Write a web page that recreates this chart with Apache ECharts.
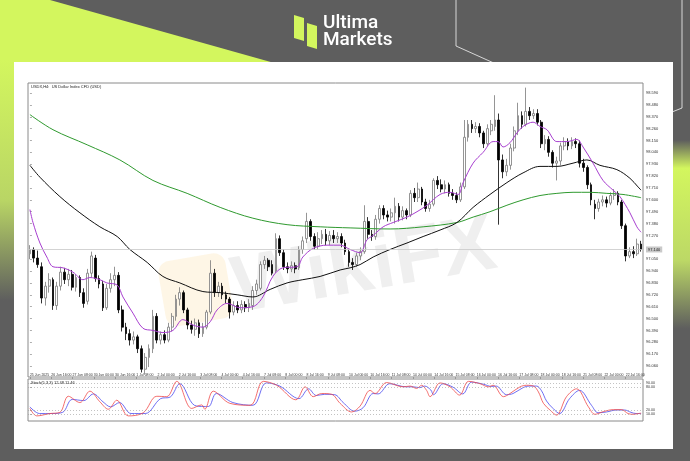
<!DOCTYPE html>
<html><head><meta charset="utf-8">
<script src="https://cdn.jsdelivr.net/npm/echarts@6/dist/echarts.min.js"></script>
<style>html,body{margin:0;padding:0;background:#5e5e5e}#c{width:690px;height:461px}</style>
</head><body><div id="c"></div><script>
// [open, close, low, high]
const candles = [
[97.10,97.14,97.05,97.18],[97.14,97.06,97.02,97.16],[97.06,97.00,96.97,97.13],[96.98,96.69,96.64,97.02],
[96.69,96.80,96.62,96.84],[96.80,96.86,96.74,96.92],[96.86,96.62,96.58,96.88],[96.62,96.80,96.58,96.84],
[96.80,96.93,96.76,96.98],[96.93,96.86,96.82,96.97],[96.86,96.91,96.80,96.96],[96.91,96.79,96.76,96.95],
[96.79,96.88,96.75,96.91],[96.88,96.74,96.70,96.90],[96.74,96.64,96.60,96.78],[96.66,96.92,96.63,96.96],
[96.92,97.08,96.88,97.12],[97.06,96.87,96.84,97.09],[96.87,96.82,96.78,96.90],[96.82,96.60,96.57,96.85],
[96.60,96.78,96.58,96.82],[96.78,96.86,96.74,96.92],[96.86,96.90,96.80,96.98],[96.90,96.58,96.55,96.93],
[96.58,96.42,96.38,96.62],[96.42,96.36,96.30,96.46],[96.36,96.30,96.25,96.40],[96.30,96.33,96.26,96.38],
[96.33,96.22,96.18,96.35],[96.22,96.03,96.00,96.25],[96.03,96.14,95.98,96.18],[96.14,96.22,96.05,96.26],
[96.22,96.52,96.18,96.58],[96.52,96.30,96.27,96.55],[96.30,96.35,96.26,96.38],[96.35,96.30,96.27,96.39],
[96.30,96.42,96.28,96.46],[96.42,96.52,96.38,96.55],[96.52,96.68,96.48,96.72],[96.68,96.74,96.62,96.79],
[96.74,96.58,96.55,96.76],[96.58,96.44,96.40,96.60],[96.44,96.40,96.36,96.48],[96.40,96.46,96.34,96.50],
[96.46,96.36,96.32,96.49],[96.36,96.42,96.33,96.46],[96.42,96.56,96.40,96.58],[96.56,96.92,96.54,97.04],
[96.92,96.74,96.70,96.96],[96.74,96.80,96.70,96.84],[96.80,96.72,96.68,96.83],[96.72,96.68,96.64,96.75],
[96.68,96.56,96.50,96.70],[96.56,96.62,96.53,96.66],[96.62,96.58,96.55,96.66],[96.58,96.63,96.55,96.67],
[96.63,96.60,96.56,96.66],[96.60,96.64,96.56,96.68],[96.62,96.76,96.58,96.80],[96.76,96.82,96.72,96.86],
[96.78,97.00,96.76,97.03],[97.00,97.04,96.96,97.08],[97.04,96.98,96.94,97.06],[97.00,96.92,96.90,97.04],
[96.94,97.24,96.92,97.29],[97.24,97.11,97.08,97.27],[97.11,96.98,96.95,97.14],[96.98,96.96,96.92,97.02],
[96.96,96.99,96.93,97.03],[96.99,96.96,96.92,97.02],[96.97,97.14,96.95,97.17],[97.14,97.22,97.10,97.26],
[97.24,97.40,97.20,97.48],[97.40,97.26,97.22,97.42],[97.26,97.17,97.14,97.29],[97.17,97.24,97.14,97.30],
[97.24,97.28,97.19,97.32],[97.28,97.22,97.18,97.33],[97.22,97.27,97.18,97.31],[97.27,97.24,97.20,97.32],
[97.24,97.26,97.20,97.30],[97.26,97.20,97.16,97.29],[97.20,97.12,97.09,97.23],[97.12,97.02,96.98,97.14],
[97.02,97.00,96.95,97.06],[97.00,97.08,96.98,97.11],[97.08,97.12,97.04,97.16],[97.12,97.40,97.10,97.55],
[97.40,97.28,97.24,97.44],[97.28,97.26,97.22,97.32],[97.26,97.42,97.23,97.46],[97.42,97.52,97.38,97.55],
[97.52,97.46,97.42,97.55],[97.46,97.44,97.40,97.50],[97.44,97.48,97.40,97.52],[97.48,97.54,97.38,97.62],
[97.54,97.44,97.40,97.57],[97.44,97.50,97.41,97.54],[97.50,97.46,97.42,97.52],[97.46,97.66,97.44,97.69],
[97.66,97.62,97.58,97.71],[97.62,97.70,97.58,97.76],[97.70,97.58,97.55,97.72],[97.58,97.52,97.49,97.61],
[97.52,97.56,97.49,97.60],[97.56,97.78,97.54,97.80],[97.78,97.74,97.70,97.82],[97.74,97.70,97.67,97.79],
[97.70,97.74,97.66,97.78],[97.74,97.66,97.63,97.76],[97.66,97.64,97.60,97.70],[97.64,97.60,97.57,97.67],
[97.60,97.72,97.58,97.76],[97.72,98.18,97.70,98.34],[98.18,98.30,98.14,98.34],[98.30,98.26,98.22,98.34],
[98.26,98.28,98.22,98.32],[98.28,98.22,98.18,98.31],[98.22,98.12,98.08,98.24],[98.12,98.26,98.10,98.30],
[98.24,98.30,98.20,98.34],[98.28,98.34,98.24,98.57],[98.34,97.97,97.37,98.40],[97.97,97.86,97.80,98.02],
[97.86,97.92,97.82,97.98],[97.92,98.08,97.88,98.12],[98.08,98.24,98.05,98.28],[98.24,98.38,98.20,98.50],
[98.38,98.30,98.26,98.42],[98.30,98.42,98.28,98.64],[98.42,98.38,98.34,98.46],[98.38,98.40,98.35,98.44],
[98.40,98.32,98.29,98.44],[98.32,98.12,98.08,98.34],[98.12,98.16,98.06,98.20],[98.16,98.04,98.00,98.19],
[98.04,97.94,97.90,98.06],[97.94,97.96,97.78,98.00],[97.96,98.10,97.92,98.13],[98.10,98.14,98.06,98.18],
[98.14,98.10,98.06,98.17],[98.10,98.14,98.07,98.18],[98.14,98.12,98.08,98.17],[98.12,97.94,97.90,98.15],
[97.94,97.90,97.86,97.98],[97.90,97.74,97.70,97.92],[97.74,97.60,97.55,97.76],[97.56,97.52,97.42,97.60],
[97.52,97.58,97.49,97.61],[97.58,97.60,97.54,97.64],[97.60,97.57,97.53,97.63],[97.57,97.64,97.55,97.67],
[97.64,97.66,97.60,97.70],[97.66,97.58,97.55,97.68],[97.58,97.36,97.33,97.60],[97.36,97.08,97.03,97.38],
[97.08,97.12,97.06,97.16],[97.12,97.10,97.06,97.17],[97.10,97.19,97.08,97.24],[97.19,97.14,97.12,97.22]
];
// moving averages: [bar position, price]
const maFast = [[0,97.51],[0.8,97.39],[2.6,97.20],[4.4,97.07],[6,96.98],[8.6,96.97],[11.2,96.93],[13.8,96.86],[15.6,96.88],[18.2,96.86],[20,96.83],[22.7,96.81],[24.2,96.70],[26.8,96.55],[29.4,96.41],[32,96.39],[34.6,96.37],[37.2,96.39],[39.8,96.49],[42.4,96.44],[45,96.42],[46.9,96.47],[48.7,96.58],[51.3,96.64],[54.7,96.60],[58,96.61],[60.6,96.70],[63.2,96.89],[65.8,96.97],[69.5,96.98],[71,97.07],[73.7,97.15],[77.3,97.18],[80.7,97.18],[83.3,97.14],[85.9,97.11],[87.7,97.23],[89.3,97.27],[91.9,97.35],[94.5,97.39],[98.1,97.44],[100.7,97.49],[103.3,97.55],[106.7,97.65],[109.3,97.67],[111.4,97.65],[112.7,97.76],[115.3,97.94],[117.9,98.04],[120.5,98.14],[121.8,98.14],[123.1,98.09],[124.9,98.13],[126.7,98.22],[128.3,98.28],[130.9,98.32],[132.7,98.28],[134.5,98.25],[137.1,98.14],[139.7,98.14],[142.3,98.16],[143.9,98.09],[146.5,97.94],[149.1,97.78],[151.7,97.69],[153.5,97.63],[156.1,97.48],[157.9,97.35],[159,97.30]];
const maMid = [[0,97.92],[2.6,97.81],[7.8,97.63],[13,97.48],[18.2,97.35],[22.7,97.26],[26,97.14],[30.5,97.02],[34.6,96.89],[39,96.83],[45,96.75],[49.5,96.74],[53.9,96.72],[58,96.70],[62.5,96.77],[66.9,96.83],[71,96.86],[75.5,96.89],[80.7,96.95],[83.3,96.97],[85.9,97.00],[89.3,97.07],[93.7,97.14],[98.1,97.20],[102.3,97.26],[106.7,97.32],[111.1,97.39],[115.3,97.53],[119.7,97.65],[124.1,97.76],[128.3,97.85],[132.7,97.91],[137.1,97.91],[141.3,97.94],[144.9,97.97],[148.3,97.92],[152.7,97.88],[156.1,97.80],[158.2,97.72],[159,97.69]];
const maSlow = [[0,98.39],[6,98.25],[14.9,98.11],[23.4,97.97],[32,97.78],[40.9,97.66],[49.5,97.53],[58,97.43],[66.9,97.37],[75.5,97.35],[83.3,97.34],[93.7,97.33],[102.3,97.35],[111.1,97.39],[115.3,97.44],[119.7,97.49],[124.1,97.55],[128.3,97.60],[132.7,97.64],[137.1,97.66],[141.3,97.67],[145.7,97.67],[150.1,97.66],[154.3,97.65],[159,97.62]];
// stochastic (5,3,3)
const stochMain = [[0,25],[1.8,6],[5.2,12],[7.8,15],[10,56],[13,40],[15.6,69],[18.2,42],[20.4,23],[22.6,46],[25.6,6],[29.5,14],[33,56],[35.6,55],[38.2,94],[42.1,25],[44.7,34],[45.5,23],[47.7,69],[52,38],[57.3,33],[60.7,94],[64.2,84],[69.2,47],[71.6,80],[73.7,55],[75.9,63],[78.5,61],[80.7,38],[83.7,16],[85.9,31],[88.5,71],[89.8,63],[92.8,91],[97.1,80],[98.9,82],[100.6,76],[101.9,84],[103.2,71],[104.1,55],[106.7,90],[109.3,80],[111.8,59],[114.1,94],[117.1,88],[119.3,80],[120.5,84],[123.2,55],[124.9,63],[127.5,80],[129.2,84],[131,82],[132.3,67],[133.6,38],[135.3,21],[137,8],[139.6,55],[142.2,75],[145.3,29],[147,10],[149.2,17],[151.8,22],[153.9,22],[155.6,12],[156.9,10],[158.3,12],[159,13]];
const stochSignal = [[0,29],[2.5,12],[5.5,12],[8.5,15],[11,48],[14,45],[16.5,62],[19,42],[21,29],[23.3,40],[26.3,12],[30,12],[34,50],[36.5,54],[39,88],[42.8,33],[45.3,30],[46.5,30],[48.5,63],[52.8,40],[58,33],[61.5,90],[65,82],[70,50],[72.5,75],[74.5,58],[76.7,61],[79.3,60],[81.5,40],[84.5,18],[86.7,27],[89.3,63],[90.6,62],[93.6,88],[97.9,80],[99.7,80],[101.4,78],[102.7,82],[104.3,72],[105,60],[107.5,88],[110.1,79],[112.6,62],[114.9,92],[117.9,87],[120.1,81],[121.3,82],[124,60],[125.7,63],[128.3,78],[130,82],[131.8,82],[133.1,70],[134.4,44],[136.1,25],[137.8,12],[140.4,50],[143,71],[146.1,33],[147.8,14],[150,16],[152.6,21],[154.7,21],[156.4,15],[157.7,12],[159,12]];
const stochLevels = [10, 20, 80, 90];
const priceTicks = [96.06,96.17,96.28,96.39,96.50,96.61,96.72,96.83,96.94,97.05,97.27,97.38,97.49,97.60,97.71,97.82,97.93,98.04,98.15,98.26,98.37,98.48,98.59];
const timeLabels = ['25 Jun 2025','26 Jun 16:00','27 Jun 08:00','30 Jun 00:00','30 Jun 16:00','1 Jul 08:00','2 Jul 00:00','2 Jul 16:00','3 Jul 08:00','4 Jul 00:00','4 Jul 16:00','7 Jul 08:00','8 Jul 00:00','8 Jul 16:00','9 Jul 08:00','10 Jul 00:00','10 Jul 16:00','11 Jul 08:00','14 Jul 00:00','14 Jul 16:00','15 Jul 08:00','16 Jul 00:00','16 Jul 16:00','17 Jul 08:00','18 Jul 00:00','18 Jul 16:00','21 Jul 08:00','22 Jul 00:00','22 Jul 16:00'];
const chartTitle = 'USDX,H4:  US Dollar Index CFD (USD)';
const stochTitle = 'Stoch(5,3,3) 12.48 11.46';

const N = candles.length;
const lastLabelBar = 155;
const labelPos = timeLabels.map((t, k) => k * lastLabelBar / (timeLabels.length - 1));
const labelText = (v) => { const k = labelPos.findIndex(p => Math.abs(p - v) < 1e-6); return k >= 0 ? timeLabels[k] : ''; };
const cats = Array.from({length: N}, (_, i) => 'b' + i);
const lastClose = candles[N - 1][1];
const FONT = "'Liberation Sans Narrow','Liberation Sans',Arial,sans-serif";
const LIME = '#d3f65e';

const chart = echarts.init(document.getElementById('c'), null, {width: 690, height: 461});
const graphic = [
  {type: 'polygon', z: -10, shape: {points: [[0,0],[50,0],[285,66],[0,66]]}, style: {fill: LIME}},
  {type: 'rect', z: -10, shape: {x: 0, y: 60, width: 16, height: 401},
   style: {fill: new echarts.graphic.LinearGradient(0,0,0,1,[{offset:0,color:LIME},{offset:0.35,color:'#b9d565'},{offset:0.6,color:'#5e5e5e'},{offset:1,color:'#5e5e5e'}])}},
  {type: 'rect', z: -10, shape: {x: 672, y: 60, width: 18, height: 401},
   style: {fill: new echarts.graphic.LinearGradient(0,0,0,1,[{offset:0,color:'#5e5e5e'},{offset:0.2,color:'#5e5e5e'},{offset:0.27,color:LIME},{offset:0.5,color:'#bcd866'},{offset:0.67,color:'#5e5e5e'},{offset:1,color:'#5e5e5e'}])}},
  {type: 'polyline', z: -9, shape: {points: [[456,0],[456,46],[545,86]]}, style: {stroke: 'rgba(255,255,255,0.75)', lineWidth: 1, fill: null}},
  {type: 'polyline', z: -9, shape: {points: [[682,0],[682,108],[672,112]]}, style: {stroke: 'rgba(255,255,255,0.75)', lineWidth: 1, fill: null}},
  {type: 'polygon', z: -9, shape: {points: [[294,15],[304,18],[304,41],[294,38]]}, style: {fill: LIME}},
  {type: 'polygon', z: -9, shape: {points: [[307,23],[317,26],[317,49],[307,46]]}, style: {fill: LIME}},
  {type: 'text', z: -9, x: 323, y: 14, style: {text: 'Ultima', fill: '#ffffff', font: '500 19px Roboto, Inter, sans-serif'}},
  {type: 'text', z: -9, x: 323, y: 31, style: {text: 'Markets', fill: '#ffffff', font: '500 19px Roboto, Inter, sans-serif'}},
  {type: 'rect', z: -8, shape: {x: 14, y: 62, width: 659, height: 387}, style: {fill: '#ffffff'}},
  {type: 'rect', z: -7, x: 168, y: 330, rotation: 0.17, shape: {x: 0, y: -68, width: 68, height: 66, r: 12}, style: {fill: 'rgba(252,222,160,0.26)'}},
  {type: 'text', z: -7, x: 240, y: 330, rotation: 0.17, style: {text: 'WikiFX', fill: 'rgba(120,120,120,0.12)', font: 'bold 80px "Liberation Sans", Arial, sans-serif', verticalAlign: 'bottom'}},
  {type: 'text', z: 10, x: 31, y: 85, style: {text: chartTitle, fill: '#222', font: '4px ' + FONT}},
  {type: 'text', z: 10, x: 31, y: 381, style: {text: stochTitle, fill: '#222', font: '4px ' + FONT}}
];

const lineS = (name, data, color, xi, yi, w) => ({
  name, type: 'line', xAxisIndex: xi, yAxisIndex: yi, data, smooth: 0.35, symbol: 'none',
  lineStyle: {color, width: w}, z: 4, silent: true
});

chart.setOption({
  backgroundColor: '#5e5e5e',
  animation: false,
  graphic,
  grid: [
    {left: 28, right: 47, top: 83, height: 294, show: true, borderColor: '#8a8a8a', borderWidth: 1, backgroundColor: 'transparent'},
    {left: 28, right: 47, top: 379, height: 42, show: true, borderColor: '#8a8a8a', borderWidth: 1, backgroundColor: 'transparent'}
  ],
  xAxis: [
    {type: 'category', gridIndex: 0, data: cats, boundaryGap: true, axisLine: {show: false}, axisTick: {show: false}, axisLabel: {show: false}, splitLine: {show: false}},
    {type: 'value', gridIndex: 0, min: -0.5, max: N - 0.5, show: false},
    {type: 'category', gridIndex: 1, data: cats, boundaryGap: true, show: false},
    {type: 'value', gridIndex: 1, min: -0.5, max: N - 0.5, splitLine: {show: false}, axisLine: {show: false},
     axisTick: {show: true, customValues: labelPos, length: 2, lineStyle: {color: '#777', width: 0.6}},
     axisLabel: {customValues: labelPos, formatter: labelText, align: 'left', margin: 2, fontSize: 3.5, color: '#333', fontFamily: FONT}}
  ],
  yAxis: [
    {type: 'value', gridIndex: 0, position: 'right', min: 95.958, max: 98.683, splitLine: {show: false}, axisLine: {show: false},
     axisTick: {show: true, customValues: priceTicks, length: 2, lineStyle: {color: '#777', width: 0.6}},
     axisLabel: {customValues: priceTicks, formatter: v => Number(v).toFixed(3), fontSize: 4, margin: 3, color: '#333', fontFamily: FONT}},
    {type: 'value', gridIndex: 1, position: 'right', min: -7, max: 100, splitLine: {show: false}, axisLine: {show: false},
     axisTick: {show: true, customValues: stochLevels, length: 2, lineStyle: {color: '#777', width: 0.6}},
     axisLabel: {customValues: stochLevels, formatter: v => Number(v).toFixed(2), fontSize: 3.6, margin: 3, color: '#333', fontFamily: FONT}}
  ],
  series: [
    {type: 'candlestick', xAxisIndex: 0, yAxisIndex: 0, data: candles, barWidth: '58%', z: 3, silent: true,
     itemStyle: {color: '#ffffff', color0: '#000000', borderColor: '#7a7a7a', borderColor0: '#000000', borderWidth: 0.8},
     markLine: {silent: true, symbol: 'none', animation: false, data: [{yAxis: lastClose}],
       lineStyle: {color: '#c8c8c8', width: 0.8, type: 'solid'},
       label: {position: 'end', formatter: p => Number(p.value).toFixed(3), backgroundColor: '#c9c9c9', color: '#222', fontSize: 4, padding: [1, 2], distance: 3, fontFamily: FONT}}},
    lineS('ma slow', maSlow, '#2f9a2f', 1, 0, 1),
    lineS('ma mid', maMid, '#111111', 1, 0, 1),
    lineS('ma fast', maFast, '#a83fd0', 1, 0, 1),
    Object.assign(lineS('stoch signal', stochSignal, '#4a4af0', 3, 1, 0.8), {
      markLine: {silent: true, symbol: 'none', animation: false, label: {show: false},
        lineStyle: {color: '#9a9a9a', width: 0.6, type: [1, 2]}, data: stochLevels.map(v => ({yAxis: v}))}}),
    lineS('stoch main', stochMain, '#f04a4a', 3, 1, 0.8)
  ]
});
</script></body></html>
